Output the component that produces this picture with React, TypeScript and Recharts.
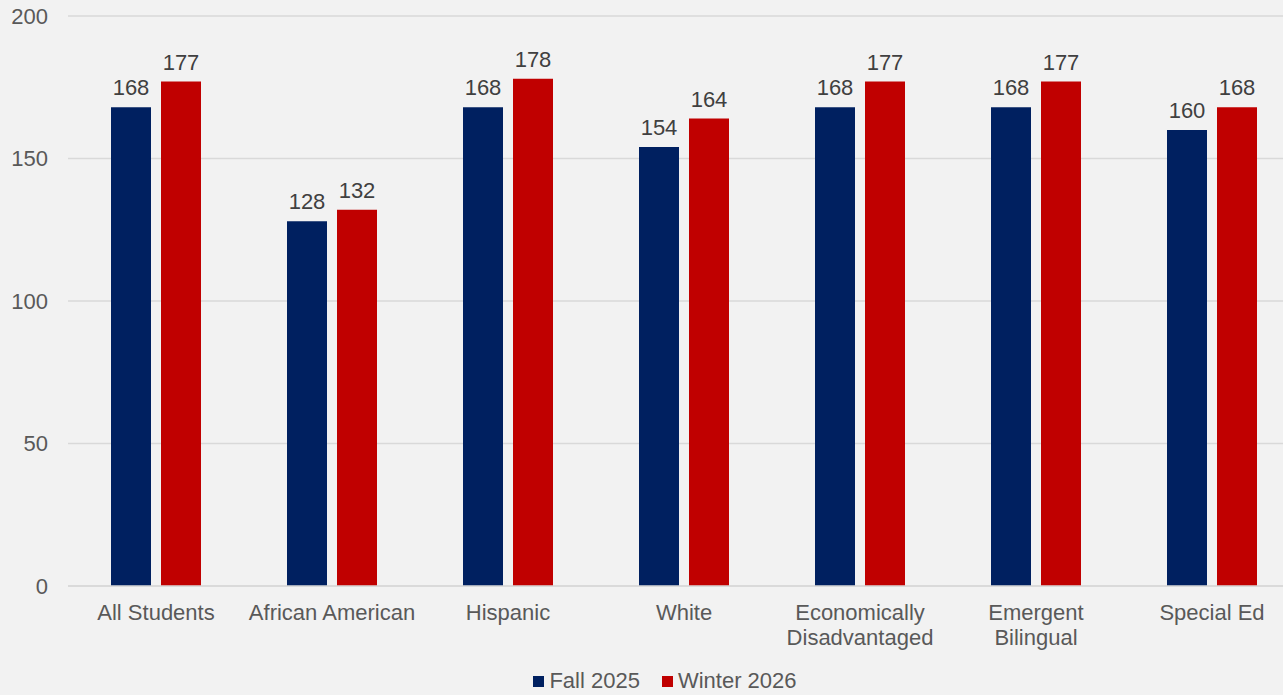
import React from 'react';
import { BarChart, Bar, XAxis, YAxis, CartesianGrid, Legend, LabelList } from 'recharts';

const categories = [
  'All Students',
  'African American',
  'Hispanic',
  'White',
  'Economically\nDisadvantaged',
  'Emergent\nBilingual',
  'Special Ed',
];
const fall2025 = [168, 128, 168, 154, 168, 168, 160];
const winter2026 = [177, 132, 178, 164, 177, 177, 168];
const yTicks = [0, 50, 100, 150, 200];

const FONT = '"Liberation Sans", Arial, sans-serif';
const NAVY = '#002060';
const RED = '#C00000';
const FS = 22;

const data = categories.map((name, i) => ({
  name,
  fall: fall2025[i],
  winter: winter2026[i],
}));

const CategoryTick = (props: any) => {
  const { x, y, payload } = props;
  const lines = String(payload.value).split('\n');
  return (
    <g transform={`translate(${x},${y})`}>
      {lines.map((line: string, i: number) => (
        <text
          key={i}
          x={0}
          y={26 + i * 25}
          textAnchor="middle"
          fill="#595959"
          fontSize={FS}
          fontFamily={FONT}
        >
          {line}
        </text>
      ))}
    </g>
  );
};

const LegendContent = () => (
  <div
    style={{
      display: 'flex',
      justifyContent: 'center',
      gap: 22,
      fontFamily: FONT,
      fontSize: FS,
      lineHeight: '24px',
      color: '#595959',
      paddingLeft: 30,
      paddingTop: 2,
    }}
  >
    {[
      { label: 'Fall 2025', color: NAVY },
      { label: 'Winter 2026', color: RED },
    ].map((item) => (
      <span key={item.label} style={{ display: 'flex', alignItems: 'center' }}>
        <span
          style={{ width: 11, height: 11, background: item.color, marginRight: 5, display: 'inline-block' }}
        />
        {item.label}
      </span>
    ))}
  </div>
);

export default function App() {
  return (
    <div
      style={{
        position: 'fixed',
        left: 0,
        top: 0,
        width: 1283,
        height: 695,
        overflow: 'hidden',
        background: '#f2f2f2',
      }}
    >
      <BarChart
        width={1300}
        height={695}
        data={data}
        margin={{ top: 16, right: 0, bottom: 0, left: 0 }}
        barGap={10}
        barCategoryGap={43}
      >
        <CartesianGrid vertical={false} stroke="#d9d9d9" strokeWidth={1.5} />
        <XAxis
          dataKey="name"
          interval={0}
          height={81}
          tickLine={false}
          axisLine={{ stroke: '#d9d9d9', strokeWidth: 1.5 }}
          tick={<CategoryTick />}
        />
        <YAxis
          width={68}
          domain={[0, 200]}
          ticks={yTicks}
          axisLine={false}
          tickLine={false}
          tickMargin={14}
          tick={{ fill: '#595959', fontSize: FS, fontFamily: FONT }}
        />
        <Legend verticalAlign="bottom" height={28} content={<LegendContent />} />
        <Bar dataKey="fall" name="Fall 2025" fill={NAVY} barSize={40} isAnimationActive={false}>
          <LabelList dataKey="fall" position="top" offset={12} fill="#404040" fontSize={FS} fontFamily={FONT} />
        </Bar>
        <Bar dataKey="winter" name="Winter 2026" fill={RED} barSize={40} isAnimationActive={false}>
          <LabelList dataKey="winter" position="top" offset={12} fill="#404040" fontSize={FS} fontFamily={FONT} />
        </Bar>
      </BarChart>
    </div>
  );
}
